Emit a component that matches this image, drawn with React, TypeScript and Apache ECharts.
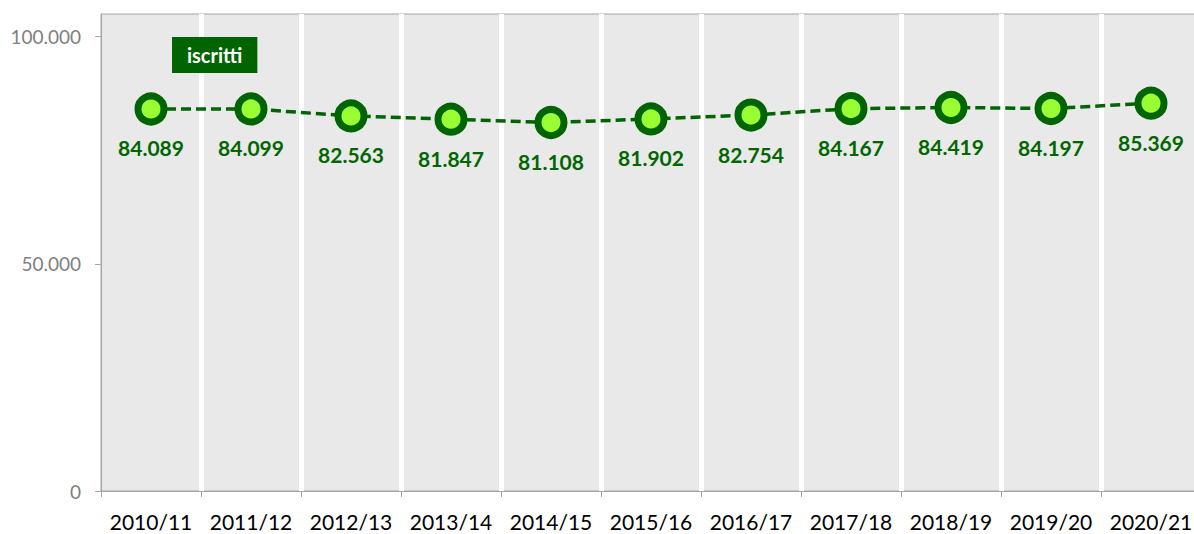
import React, { useEffect, useRef } from "react";
import * as echarts from "echarts";

const categories = ["2010/11", "2011/12", "2012/13", "2013/14", "2014/15", "2015/16", "2016/17", "2017/18", "2018/19", "2019/20", "2020/21"];
const iscritti = [84089, 84099, 82563, 81847, 81108, 81902, 82754, 84167, 84419, 84197, 85369];
const yTicks = [0, 50000, 100000];

const fmt = (v: number) => String(v).replace(/\B(?=(\d{3})+(?!\d))/g, ".");

export default function App() {
  const ref = useRef<HTMLDivElement>(null);
  useEffect(() => {
    if (!ref.current) return;
    const chart = echarts.init(ref.current, null, { renderer: "svg" });
    const font = "Lato";
    chart.setOption({
      animation: false,
      backgroundColor: "#ffffff",
      grid: {
        left: 101,
        top: 14,
        right: 0,
        bottom: 43,
        show: true,
        backgroundColor: "#e9e9e9",
        borderColor: "#a6a6a6",
        borderWidth: 1,
      },
      legend: {
        data: ["iscritti"],
        left: 167,
        top: 37,
        padding: 0,
        icon: "none",
        itemWidth: 0,
        selectedMode: false,
        textStyle: {
          color: "#ffffff",
          fontFamily: font,
          fontWeight: "bold",
          fontSize: 20,
          backgroundColor: "#006400",
          padding: [8, 15, 8, 15],
        },
      },
      xAxis: {
        type: "category",
        data: categories,
        boundaryGap: true,
        axisLine: { show: true, lineStyle: { color: "#a6a6a6", width: 1 } },
        axisTick: { show: true, alignWithLabel: false, interval: 0, length: 6, lineStyle: { color: "#a6a6a6" } },
        axisLabel: { color: "#000000", fontFamily: font, fontSize: 21, margin: 20, interval: 0 },
        splitLine: {
          show: true,
          interval: (i: number) => i !== 0,
          lineStyle: { color: "#ffffff", width: 5 },
        },
      },
      yAxis: {
        type: "value",
        min: 0,
        max: 105000,
        interval: 50000,
        axisLine: { show: true, lineStyle: { color: "#a6a6a6", width: 1 } },
        axisTick: { show: true, length: 6, customValues: yTicks, lineStyle: { color: "#a6a6a6" } },
        axisLabel: {
          color: "#808080",
          fontFamily: font,
          fontSize: 19,
          margin: 20,
          customValues: yTicks,
          formatter: (v: number) => fmt(v),
        },
        splitLine: { show: false },
      },
      series: [
        {
          name: "iscritti",
          type: "line",
          data: iscritti,
          symbol: "circle",
          symbolSize: 26,
          itemStyle: { color: "#99ff33", borderColor: "#006400", borderWidth: 7 },
          lineStyle: { color: "#006400", width: 3.5, type: [10, 5] },
          label: {
            show: true,
            position: "bottom",
            distance: 12,
            color: "#006600",
            fontFamily: font,
            fontWeight: "bold",
            fontSize: 21,
            formatter: (p: any) => fmt(p.value),
          },
        },
      ],
    });
    return () => chart.dispose();
  }, []);
  return (
    <div style={{ position: "fixed", left: 0, top: 0, width: 1194, height: 534, overflow: "hidden" }}>
      <div ref={ref} style={{ width: 1201, height: 534 }} />
    </div>
  );
}
